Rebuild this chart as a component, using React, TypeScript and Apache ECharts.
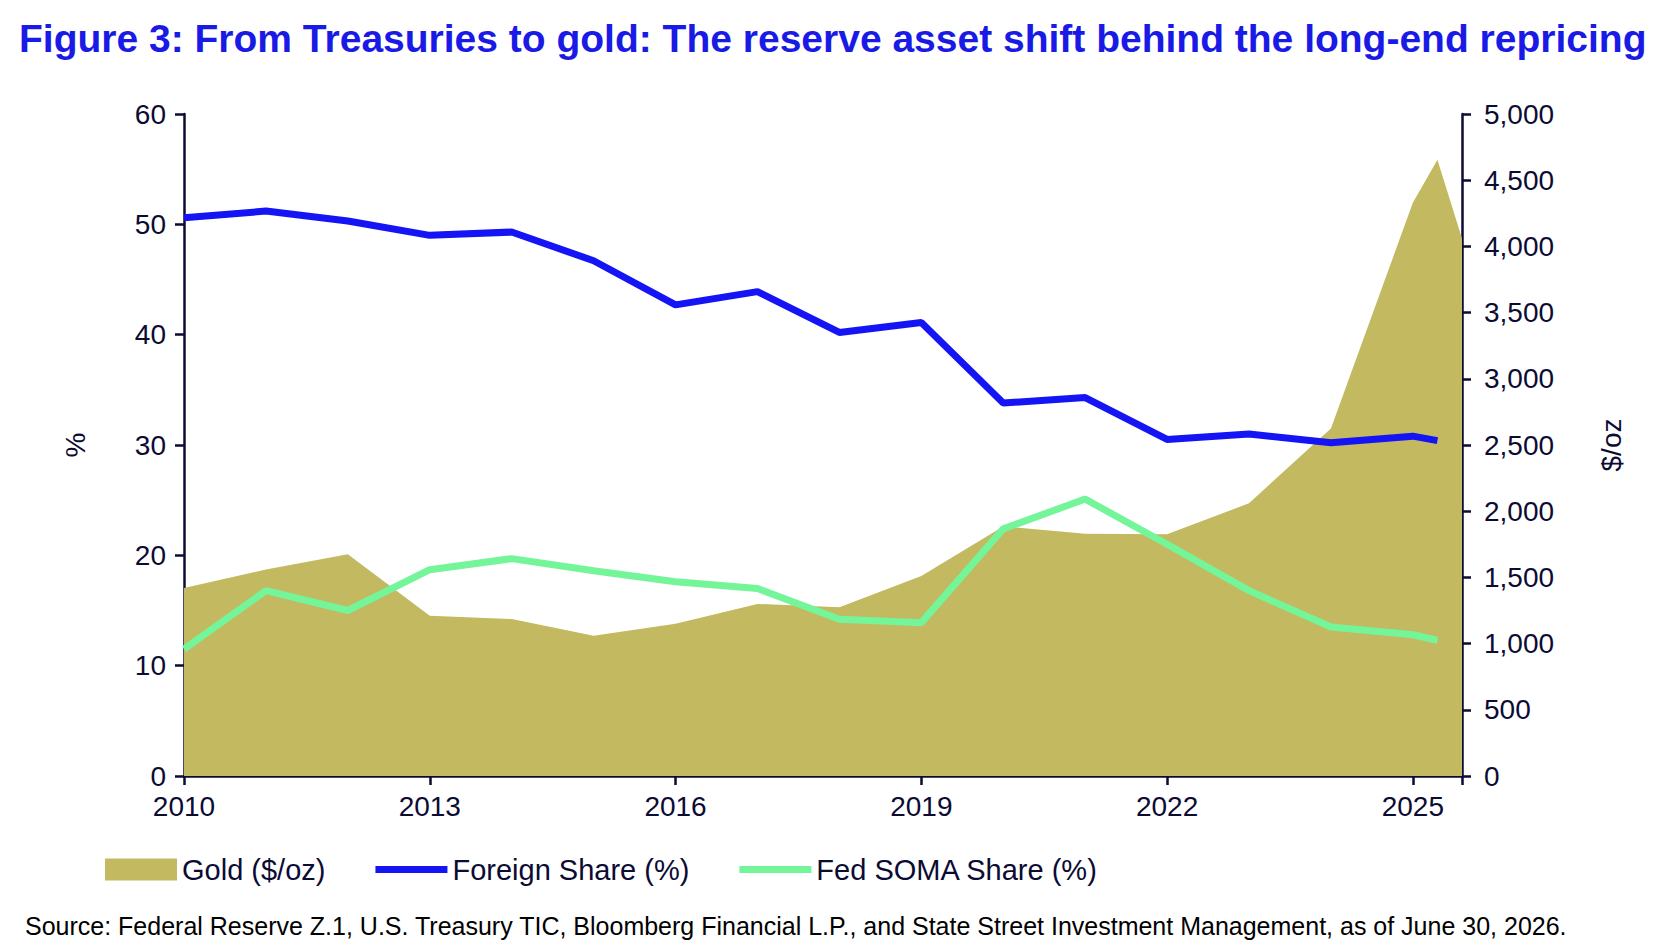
import React, { useEffect, useRef } from 'react';
import * as echarts from 'echarts';

const goldYears = [2010, 2011, 2012, 2013, 2014, 2015, 2016, 2017, 2018, 2019, 2020, 2021, 2022, 2023, 2024, 2025, 2025.3, 2025.6];
const goldPrice = [1420, 1560, 1675, 1210, 1185, 1060, 1150, 1300, 1275, 1510, 1885, 1830, 1825, 2060, 2625, 4330, 4655, 4060];

const shareYears = [2010, 2011, 2012, 2013, 2014, 2015, 2016, 2017, 2018, 2019, 2020, 2021, 2022, 2023, 2024, 2025, 2025.3];
const foreignShare = [50.6, 51.2, 50.3, 49.0, 49.3, 46.7, 42.7, 43.9, 40.2, 41.1, 33.8, 34.3, 30.5, 31.0, 30.2, 30.8, 30.4];
const somaShare = [11.5, 16.8, 15.0, 18.7, 19.7, 18.6, 17.6, 17.0, 14.2, 13.9, 22.4, 25.1, 21.0, 16.8, 13.5, 12.8, 12.3];

const zip = (xs: number[], ys: number[]) => xs.map((x, i) => [x, ys[i]]);

const ink = '#0b0b33';
const font = 'Liberation Sans';
const lineIcon = 'path://M0,0h80v8h-80z';

const App = () => {
    const chartRef = useRef(null);

    useEffect(() => {
        const chartDom = chartRef.current;
        if (!chartDom) return;
        const myChart = echarts.init(chartDom, null, { renderer: 'svg' });

        const axisCommon = {
            axisLine: { show: true, lineStyle: { color: ink, width: 2.5 } },
            axisTick: { show: true, length: 9, lineStyle: { color: ink, width: 2.5 } },
            splitLine: { show: false },
            axisLabel: { color: ink, fontSize: 28, fontFamily: font },
        };

        const option = {
            animation: false,
            textStyle: { fontFamily: font },
            title: [
                {
                    text: 'Figure 3: From Treasuries to gold: The reserve asset shift behind the long-end repricing',
                    left: 6, top: 6,
                    textStyle: { color: '#1a1ae6', fontSize: 39, fontWeight: 'bold', fontFamily: font },
                },
                {
                    text: 'Source: Federal Reserve Z.1, U.S. Treasury TIC, Bloomberg Financial L.P., and State Street Investment Management, as of June 30, 2026.',
                    left: 12, top: 900,
                    textStyle: { color: '#000', fontSize: 25, fontWeight: 'normal', fontFamily: font },
                },
            ],
            legend: {
                left: 92, top: 842,
                itemWidth: 72, itemHeight: 22, itemGap: 50,
                textStyle: { color: ink, fontSize: 29, fontFamily: font },
                data: [
                    { name: 'Gold ($/oz)', icon: 'rect' },
                    { name: 'Foreign Share (%)', icon: lineIcon, itemStyle: { color: '#1414f5' } },
                    { name: 'Fed SOMA Share (%)', icon: lineIcon, itemStyle: { color: '#74f59a' } },
                ],
            },
            grid: { left: 176, right: 210, top: 106, bottom: 168 },
            xAxis: {
                type: 'value', min: 2010, max: 2025.6, interval: 3,
                ...axisCommon,
                axisLabel: {
                    ...axisCommon.axisLabel, margin: 16,
                    formatter: (v: number) => (v % 3 === 0 ? String(v) : ''),
                },
            },
            yAxis: [
                {
                    type: 'value', min: 0, max: 60, interval: 10, position: 'left',
                    name: '%', nameLocation: 'middle', nameGap: 95, nameRotate: 90,
                    nameTextStyle: { color: ink, fontSize: 28, fontFamily: font },
                    ...axisCommon,
                    axisLabel: { ...axisCommon.axisLabel, margin: 18 },
                },
                {
                    type: 'value', min: 0, max: 5000, interval: 500, position: 'right',
                    name: '$/oz', nameLocation: 'middle', nameGap: 135, nameRotate: 90,
                    nameTextStyle: { color: ink, fontSize: 28, fontFamily: font },
                    ...axisCommon,
                    axisLabel: {
                        ...axisCommon.axisLabel, margin: 22,
                        formatter: (v: number) => v.toLocaleString('en-US'),
                    },
                },
            ],
            series: [
                {
                    name: 'Gold ($/oz)', type: 'line', yAxisIndex: 1,
                    data: zip(goldYears, goldPrice), showSymbol: false, symbol: 'none',
                    lineStyle: { width: 0, color: '#c2b960' }, itemStyle: { color: '#c2b960' },
                    areaStyle: { color: '#c2b960', opacity: 1 },
                },
                {
                    name: 'Foreign Share (%)', type: 'line', yAxisIndex: 0,
                    data: zip(shareYears, foreignShare), showSymbol: false, symbol: 'none',
                    lineStyle: { width: 7, color: '#1414f5' }, itemStyle: { color: '#1414f5' },
                },
                {
                    name: 'Fed SOMA Share (%)', type: 'line', yAxisIndex: 0,
                    data: zip(shareYears, somaShare), showSymbol: false, symbol: 'none',
                    lineStyle: { width: 7, color: '#74f59a' }, itemStyle: { color: '#74f59a' },
                },
            ],
        };

        myChart.setOption(option);
        return () => {
            myChart.dispose();
        };
    }, []);

    return <div ref={chartRef} style={{ width: '1664px', height: '936px' }}></div>;
};

export default App;
